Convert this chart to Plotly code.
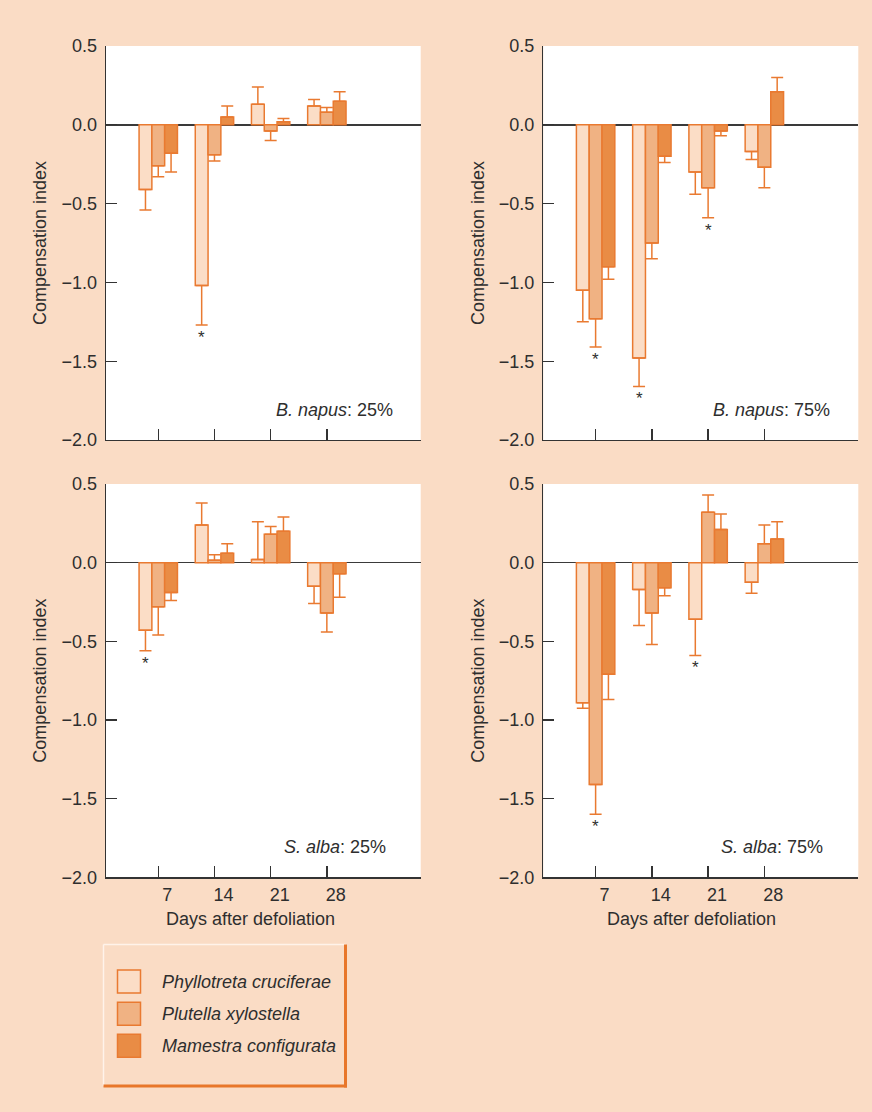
import plotly.graph_objects as go

# ---------------- data ----------------
days = [7, 14, 21, 28]
series_names = ["Phyllotreta cruciferae", "Plutella xylostella", "Mamestra configurata"]
panel_species = ["B. napus", "B. napus", "S. alba", "S. alba"]
panel_levels = ["25%", "75%", "25%", "75%"]

# B. napus 25%
bn25_pc = [-0.41, -1.02, 0.13, 0.12]
bn25_px = [-0.26, -0.19, -0.04, 0.08]
bn25_mc = [-0.18, 0.05, 0.02, 0.15]
bn25_pc_err = [0.13, 0.25, 0.11, 0.04]
bn25_px_err = [0.07, 0.04, 0.06, 0.03]
bn25_mc_err = [0.12, 0.07, 0.02, 0.06]

# B. napus 75%
bn75_pc = [-1.05, -1.48, -0.30, -0.17]
bn75_px = [-1.23, -0.75, -0.40, -0.27]
bn75_mc = [-0.90, -0.20, -0.04, 0.21]
bn75_pc_err = [0.20, 0.18, 0.14, 0.05]
bn75_px_err = [0.18, 0.10, 0.19, 0.13]
bn75_mc_err = [0.08, 0.04, 0.03, 0.09]

# S. alba 25%
sa25_pc = [-0.43, 0.24, 0.02, -0.15]
sa25_px = [-0.28, 0.015, 0.18, -0.32]
sa25_mc = [-0.19, 0.06, 0.20, -0.07]
sa25_pc_err = [0.13, 0.14, 0.24, 0.11]
sa25_px_err = [0.18, 0.035, 0.05, 0.12]
sa25_mc_err = [0.05, 0.06, 0.09, 0.15]

# S. alba 75%
sa75_pc = [-0.89, -0.17, -0.36, -0.125]
sa75_px = [-1.41, -0.32, 0.32, 0.12]
sa75_mc = [-0.71, -0.16, 0.21, 0.15]
sa75_pc_err = [0.035, 0.23, 0.23, 0.07]
sa75_px_err = [0.19, 0.20, 0.11, 0.12]
sa75_mc_err = [0.16, 0.05, 0.10, 0.11]

# significance stars: (day index, series index)
bn25_stars = [(1, 0)]
bn75_stars = [(0, 1), (1, 0), (2, 1)]
sa25_stars = [(0, 0)]
sa75_stars = [(0, 1), (2, 0)]

y_ticks = [0.5, 0.0, -0.5, -1.0, -1.5, -2.0]

panels = [
    ([bn25_pc, bn25_px, bn25_mc], [bn25_pc_err, bn25_px_err, bn25_mc_err], bn25_stars),
    ([bn75_pc, bn75_px, bn75_mc], [bn75_pc_err, bn75_px_err, bn75_mc_err], bn75_stars),
    ([sa25_pc, sa25_px, sa25_mc], [sa25_pc_err, sa25_px_err, sa25_mc_err], sa25_stars),
    ([sa75_pc, sa75_px, sa75_mc], [sa75_pc_err, sa75_px_err, sa75_mc_err], sa75_stars),
]

# ---------------- style ----------------
W, H = 872, 1112
BG = "#FADCC5"
FILLS = ["#FBDDC6", "#F0B283", "#E98C45"]
EDGE = "#E97A31"
TXT = "#2E2E2E"
AX = "#333333"
FONT = "Liberation Sans, Arial, sans-serif"
BARGAP = 0.317

def px_x(p):
    return p / W

def px_y(p):
    return 1 - p / H

xdom = [[px_x(106), px_x(420.7)], [px_x(543.3), px_x(858.3)]]
ydom = [[px_y(440), px_y(46)], [px_y(877.3), px_y(484)]]

pos = list(range(1, len(days) + 1))

fig = go.Figure()
annotations = []

for pi, (vals, errs, stars) in enumerate(panels):
    row, col = divmod(pi, 2)
    sfx = "" if pi == 0 else str(pi + 1)
    for si in range(3):
        v = vals[si]
        e = errs[si]
        fig.add_trace(go.Bar(
            x=pos, y=v, name=series_names[si],
            xaxis="x" + sfx, yaxis="y" + sfx,
            marker=dict(color=FILLS[si], line=dict(color=EDGE, width=1.5)),
            error_y=dict(type="data", symmetric=False,
                         array=[ee if vv >= 0 else 0 for vv, ee in zip(v, e)],
                         arrayminus=[ee if vv < 0 else 0 for vv, ee in zip(v, e)],
                         color=EDGE, thickness=1.5, width=6),
            showlegend=False, hoverinfo="skip",
        ))
    bw = (1 - BARGAP) / 3
    for (di, si) in stars:
        yv = vals[si][di] - errs[si][di]
        annotations.append(dict(
            x=pos[di] + (si - 1) * bw, y=yv, xref="x" + sfx, yref="y" + sfx,
            text="*", showarrow=False, yanchor="top", yshift=-1,
            font=dict(family=FONT, size=17, color=TXT)))
    xs = [-26, -26, -33, -33][pi]
    annotations.append(dict(
        x=1, y=0, xref="x" + sfx + " domain", yref="y" + sfx + " domain",
        text="<i>%s</i>: %s" % (panel_species[pi], panel_levels[pi]),
        showarrow=False, xanchor="right", yanchor="middle", xshift=xs, yshift=30,
        font=dict(family=FONT, size=18, color=TXT)))
    xa = dict(domain=xdom[col], range=[0.07, 5.67], anchor="y" + sfx,
              automargin=False,
              tickvals=pos, ticktext=[str(d) for d in days],
              showticklabels=(row == 1), ticks="inside", ticklen=11,
              tickwidth=1.3, tickcolor=AX, showline=True, linecolor=AX,
              linewidth=1.3, showgrid=False, zeroline=False,
              ticklabelshift=9, ticklabelstandoff=1,
              tickfont=dict(family=FONT, size=18, color=TXT), fixedrange=True)
    ya = dict(domain=ydom[row], range=[-2.0, 0.5], anchor="x" + sfx,
              automargin=False,
              tickvals=y_ticks, tickformat=".1f", ticks="inside", ticklen=11,
              tickwidth=1.3, tickcolor=AX, showline=True, linecolor=AX,
              linewidth=1.3, showgrid=False, zeroline=True,
              zerolinecolor="#3A3A3A", zerolinewidth=1.5,
              ticklabelstandoff=4,
              tickfont=dict(family=FONT, size=18, color=TXT), fixedrange=True)
    fig.update_layout(**{"xaxis" + sfx: xa, "yaxis" + sfx: ya})
    # y-axis title
    yc = (ydom[row][0] + ydom[row][1]) / 2
    xt = [40, 478][col]
    annotations.append(dict(
        x=px_x(xt), y=yc, xref="paper", yref="paper", text="Compensation index",
        textangle=-90, showarrow=False, xanchor="center", yanchor="middle",
        font=dict(family=FONT, size=18, color=TXT)))
    if row == 1:
        annotations.append(dict(
            x=px_x([250, 691.7][col]), y=px_y(919), xref="paper", yref="paper",
            text="Days after defoliation", showarrow=False,
            xanchor="center", yanchor="middle",
            font=dict(family=FONT, size=18, color=TXT)))

# ---------------- legend (drawn) ----------------
shapes = []
lx0, lx1, ly0, ly1 = 103.5, 345.5, 944.5, 1086.0
shapes.append(dict(type="line", xref="paper", yref="paper", x0=px_x(lx0), x1=px_x(lx1),
                   y0=px_y(ly0), y1=px_y(ly0), line=dict(color="#FFF3EA", width=1.5)))
shapes.append(dict(type="line", xref="paper", yref="paper", x0=px_x(lx0), x1=px_x(lx0),
                   y0=px_y(ly0), y1=px_y(ly1), line=dict(color="#FFF3EA", width=1.5)))
shapes.append(dict(type="line", xref="paper", yref="paper", x0=px_x(lx1), x1=px_x(lx1),
                   y0=px_y(ly0), y1=px_y(ly1 + 1.5), line=dict(color="#E8772A", width=3)))
shapes.append(dict(type="line", xref="paper", yref="paper", x0=px_x(lx0), x1=px_x(lx1 + 1.5),
                   y0=px_y(ly1), y1=px_y(ly1), line=dict(color="#E8772A", width=3)))
sw_top = [970, 1002.3, 1034.3]
for si, name in enumerate(series_names):
    t = sw_top[si]
    shapes.append(dict(type="rect", xref="paper", yref="paper",
                       x0=px_x(117.5), x1=px_x(140.5), y0=px_y(t + 23), y1=px_y(t),
                       fillcolor=FILLS[si], line=dict(color=EDGE, width=1.5)))
    annotations.append(dict(
        x=px_x(160), y=px_y(t + 11.5), xref="paper", yref="paper",
        text="<i>%s</i>" % name, showarrow=False, xanchor="left", yanchor="middle",
        font=dict(family=FONT, size=18, color=TXT)))

fig.update_layout(
    width=W, height=H, margin=dict(l=0, r=0, t=0, b=0, autoexpand=False),
    paper_bgcolor=BG, plot_bgcolor="white",
    barmode="group", bargap=BARGAP, bargroupgap=0,
    showlegend=False, annotations=annotations, shapes=shapes,
    font=dict(family=FONT, size=18, color=TXT),
)

fig.write_html(
    "out.html",
    config={"displayModeBar": False, "staticPlot": True},
    post_script="document.body.style.margin='0';document.body.style.overflow='hidden';",
)
